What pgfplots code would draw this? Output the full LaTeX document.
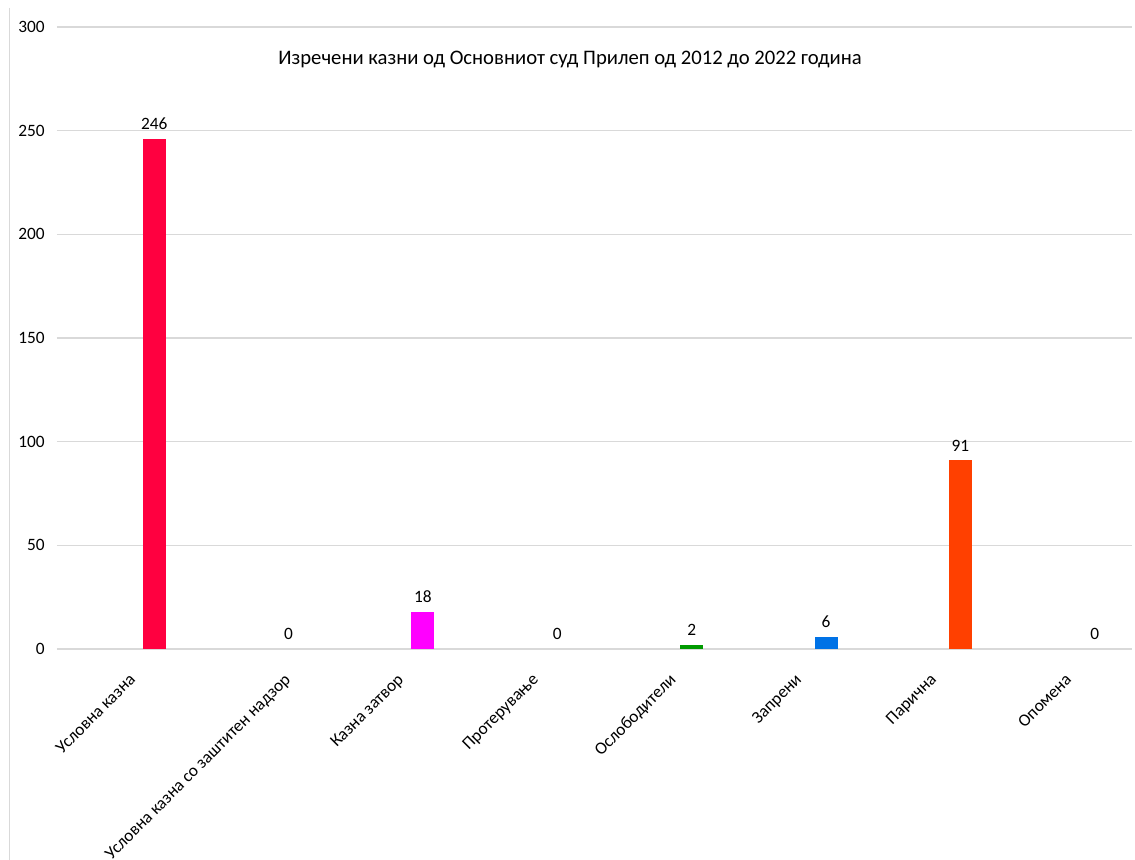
\documentclass[border=0pt]{standalone}
\usepackage{pgfplots}
\pgfplotsset{compat=1.18}
\usepackage{fontspec}
\setmainfont{Carlito}
\definecolor{gridc}{HTML}{D9D9D9}
\definecolor{c1}{HTML}{FF0040}
\definecolor{c3}{HTML}{FF00FF}
\definecolor{c5}{HTML}{009A00}
\definecolor{c6}{HTML}{0072E6}
\definecolor{c7}{HTML}{FF4000}
\begin{document}
\begin{tikzpicture}
\useasboundingbox (-42.75pt,-158.25pt) rectangle (808.5pt,486.75pt);
\draw[gridc, line width=0.75pt] (-35.25pt,480.75pt) -- (-35.25pt,-158.25pt);
\begin{axis}[
  at={(0pt,0pt)}, anchor=south west,
  scale only axis, width=806.25pt, height=466.5pt,
  ybar, bar width=17.25pt, bar shift=22.5pt,
  xmin=-0.5, xmax=7.5, ymin=0, ymax=300,
  ytick={0,50,...,300},
  xtick={0.080,1.234,2.075,3.080,4.099,5.037,6.041,7.046},
  xticklabels={Условна казна, Условна казна со заштитен надзор, Казна затвор, Протерување, Ослободители, Запрени, Парична, Опомена},
  axis line style={draw=none},
  major tick length=0pt,
  ymajorgrids, grid style={gridc, line width=1pt},
  /pgf/number format/assume math mode=true,
  yticklabel style={font=\fontsize{13}{15}\selectfont, anchor=east, inner sep=0pt, xshift=-9pt},
  xticklabel style={font=\fontsize{13}{15}\selectfont, xshift=-5pt, yshift=-17.5pt, rotate=45, anchor=north east, inner sep=0pt},
  nodes near coords,
  every node near coord/.append style={font=\fontsize{13}{15}\selectfont, inner sep=0pt, yshift=6.5pt, black},
  clip=false,
]
\addplot[draw=none, fill=c1] coordinates {(0,246)};
\addplot[draw=none, fill=none] coordinates {(1,0)};
\addplot[draw=none, fill=c3] coordinates {(2,18)};
\addplot[draw=none, fill=none] coordinates {(3,0)};
\addplot[draw=none, fill=c5] coordinates {(4,2)};
\addplot[draw=none, fill=c6] coordinates {(5,6)};
\addplot[draw=none, fill=c7] coordinates {(6,91)};
\addplot[draw=none, fill=none] coordinates {(7,0)};
\node[font=\fontsize{15.5}{18}\selectfont] at (axis cs:3.318,284.5) {Изречени казни од Основниот суд Прилеп од 2012 до 2022 година};
\end{axis}
\end{tikzpicture}
\end{document}
